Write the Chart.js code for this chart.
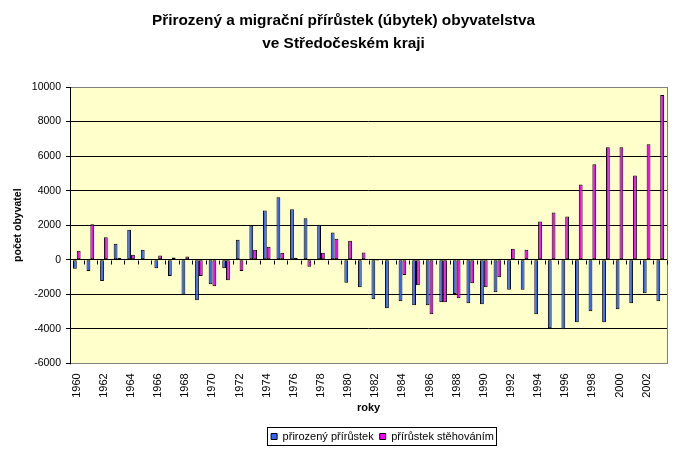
<!DOCTYPE html>
<html>
<head>
<meta charset="utf-8">
<script src="https://cdn.jsdelivr.net/npm/chart.js@4"></script>
<style>
  body { margin: 0; background: #fff; }
</style>
</head>
<body>
<canvas id="chart" width="700" height="458"></canvas>
<script>
// prirozeny a migracni prirustek, Stredocesky kraj 1960-2003
var years = ['1960','1961','1962','1963','1964','1965','1966','1967','1968','1969',
             '1970','1971','1972','1973','1974','1975','1976','1977','1978','1979',
             '1980','1981','1982','1983','1984','1985','1986','1987','1988','1989',
             '1990','1991','1992','1993','1994','1995','1996','1997','1998','1999',
             '2000','2001','2002','2003'];

var natural = [-520, -660, -1240, 930, 1740, 580, -490, -950, -2050, -2350,
               -1420, -490, 1160, 1975, 2850, 3620, 2920, 2400, 2030, 1570,
               -1340, -1590, -2290, -2810, -2400, -2640, -2640, -2460, -1980, -2520,
               -2580, -1880, -1745, -1745, -3160, -3970, -4030, -3620, -2990, -3620,
               -2870, -2520, -1940, -2400];

var migration = [520, 2050, 1300, 110, 290, 60, 250, 130, 190, -950,
                 -1530, -1190, -660, 580, 755, 405, 115, -410, 405, 1220,
                 1100, 420, -60, 30, -890, -1475, -3160, -2460, -2230, -1360,
                 -1590, -1010, 640, 580, 2210, 2730, 2500, 4360, 5520, 6510,
                 6510, 4880, 6680, 9530];

var font = 'Arial, "Liberation Sans", sans-serif';
Chart.defaults.font.family = font;
Chart.defaults.color = '#000';

// yellow plot background + grey frame + black left axis
var plotFrame = {
  id: 'plotFrame',
  afterLayout: function(chart) {
    // title and legend sit a bit right of centre in the original
    chart.titleBlock.left += 10;
    chart.titleBlock.right += 10;
    chart.legend.left += 49;
    chart.legend.right += 49;
    chart.legend.top += 8;
    chart.legend.bottom += 8;
  },
  beforeDraw: function(chart) {
    var a = chart.chartArea, ctx = chart.ctx;
    ctx.save();
    ctx.fillStyle = '#FFFFCC';
    ctx.fillRect(a.left, a.top, a.right - a.left, a.bottom - a.top);
    ctx.restore();
  },
  afterDraw: function(chart) {
    var a = chart.chartArea, ctx = chart.ctx;
    var x = chart.scales.x, y = chart.scales.y;
    ctx.save();
    ctx.lineWidth = 1;
    ctx.strokeStyle = '#808080';
    ctx.strokeRect(Math.round(a.left) + 0.5, Math.round(a.top) + 0.5, Math.round(a.right - a.left), Math.round(a.bottom - a.top));
    ctx.strokeStyle = '#000';
    ctx.beginPath();
    ctx.moveTo(Math.round(a.left) + 0.5, a.top);
    ctx.lineTo(Math.round(a.left) + 0.5, a.bottom + 1);
    ctx.stroke();
    // category tick marks on the zero line
    var y0 = Math.round(y.getPixelForValue(0)) + 0.5;
    var step = (x.right - x.left) / years.length;
    ctx.beginPath();
    for (var i = 0; i <= years.length; i++) {
      var px = Math.round(x.left + i * step) + 0.5;
      ctx.moveTo(px, y0);
      ctx.lineTo(px, y0 + 4);
    }
    ctx.stroke();
    // legend box
    var boxes = chart.legend.legendHitBoxes;
    if (boxes && boxes.length) {
      var l = Infinity, t = Infinity, r = -Infinity, b = -Infinity;
      boxes.forEach(function(h) {
        l = Math.min(l, h.left); t = Math.min(t, h.top);
        r = Math.max(r, h.left + h.width); b = Math.max(b, h.top + h.height);
      });
      ctx.strokeStyle = '#000';
      ctx.strokeRect(Math.round(l - 4) + 0.5, Math.round(t - 4) + 0.5, Math.round(r - l + 6), Math.round(b - t + 7));
    }
    ctx.restore();
  }
};

new Chart('chart', {
  type: 'bar',
  data: {
    labels: years,
    datasets: [{
      label: 'přirozený přírůstek',
      data: natural,
      backgroundColor: '#3366FF',
      borderColor: '#000',
      borderWidth: 1,
      borderSkipped: false
    }, {
      label: 'přírůstek stěhováním',
      data: migration,
      backgroundColor: '#FF00FF',
      borderColor: '#000',
      borderWidth: 1,
      borderSkipped: false
    }]
  },
  options: {
    responsive: false,
    animation: false,
    layout: { padding: { left: 0, right: 33, top: 0, bottom: 14 } },
    datasets: { bar: { categoryPercentage: 0.56, barPercentage: 1 } },
    plugins: {
      title: {
        display: true,
        text: ['Přirozený a migrační přírůstek (úbytek) obyvatelstva', 've Středočeském kraji'],
        font: { size: 15.4, weight: 'bold', family: font, lineHeight: 1.5 },
        color: '#000',
        padding: { top: 9.5, bottom: 31.3 }
      },
      legend: {
        position: 'bottom',
        labels: {
          boxWidth: 6,
          boxHeight: 6,
          padding: 6,
          font: { size: 11, family: font },
          color: '#000'
        }
      },
      tooltip: { enabled: false }
    },
    scales: {
      x: {
        grid: { display: false },
        border: { display: false },
        ticks: {
          autoSkip: false,
          minRotation: 90,
          maxRotation: 90,
          padding: 2,
          font: { size: 11, family: font },
          color: '#000',
          callback: function(v, i) { return i % 2 === 0 ? years[i] : ''; }
        },
        title: {
          display: true,
          text: 'roky',
          font: { size: 11, weight: 'bold', family: font },
          color: '#000',
          padding: { top: 2, bottom: 2 }
        }
      },
      y: {
        min: -6000,
        max: 10000,
        afterFit: function(scale) { scale.width = 70; },
        grid: { color: '#000', lineWidth: 1, tickLength: 4, tickColor: '#000' },
        border: { display: false },
        ticks: {
          stepSize: 2000,
          padding: 5,
          font: { size: 10.5, family: font },
          color: '#000',
          callback: function(v) { return String(v); }
        },
        title: {
          display: true,
          text: 'počet obyvatel',
          font: { size: 10.5, weight: 'bold', family: font },
          color: '#000',
          padding: { top: 12, bottom: 0 }
        }
      }
    }
  },
  plugins: [plotFrame]
});
</script>
</body>
</html>
